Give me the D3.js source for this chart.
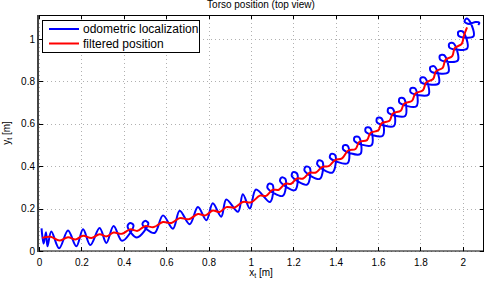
<!DOCTYPE html>
<html>
<head>
<meta charset="utf-8">
<script src="https://cdn.jsdelivr.net/npm/d3@7"></script>
<style>
body { margin: 0; background: #fff; }
svg text { font-family: "Liberation Sans", Arial, sans-serif; }
.grid line { stroke: #b0b0b0; stroke-dasharray: 1,3; shape-rendering: crispEdges; }
.tick line { shape-rendering: crispEdges; }
</style>
</head>
<body>
<div id="chart"></div>
<script>
// Chart data
var titleText = "Torso position (top view)";
var xTicks = [0, 0.2, 0.4, 0.6, 0.8, 1, 1.2, 1.4, 1.6, 1.8, 2];
var xTickLabels = ["0", "0.2", "0.4", "0.6", "0.8", "1", "1.2", "1.4", "1.6", "1.8", "2"];
var yTicks = [0, 0.2, 0.4, 0.6, 0.8, 1];
var yTickLabels = ["0", "0.2", "0.4", "0.6", "0.8", "1"];
var xDomain = [0, 2.1];
var yDomain = [0, 1.113];
var seriesNames = ["odometric localization", "filtered position"];
var seriesColors = ["#0000ff", "#ff0000"];

// odometric localization [x, y]
var odometric = [
  [0.012, 0.107], [0.022, 0.035], [0.033, 0.088], [0.04, 0.022], [0.058, 0.092],
  [0.095, 0.013], [0.137, 0.097], [0.176, 0.022], [0.208, 0.102], [0.242, 0.028],
  [0.286, 0.108], [0.318, 0.038], [0.352, 0.118], [0.392, 0.048],
  [0.446, 0.121], [0.43, 0.132], [0.418, 0.117], [0.462, 0.064],
  [0.516, 0.131], [0.50, 0.142], [0.488, 0.127], [0.545, 0.085],
  [0.585, 0.168], [0.632, 0.105], [0.664, 0.19], [0.711, 0.126],
  [0.75, 0.207], [0.79, 0.145], [0.82, 0.225], [0.86, 0.162],
  [0.884, 0.243], [0.939, 0.185], [0.962, 0.268], [0.995, 0.200],
  [1.024, 0.29], [1.090, 0.231],
  [1.103, 0.311], [1.084, 0.317], [1.078, 0.298], [1.150, 0.260],
  [1.163, 0.340], [1.144, 0.3465], [1.138, 0.328], [1.208, 0.287],
  [1.218, 0.365], [1.199, 0.3715], [1.193, 0.353], [1.265, 0.313],
  [1.278, 0.392], [1.259, 0.398], [1.253, 0.379], [1.325, 0.340],
  [1.338, 0.421], [1.319, 0.427], [1.313, 0.408], [1.385, 0.370],
  [1.398, 0.452], [1.379, 0.4584], [1.373, 0.440], [1.456, 0.414],
  [1.457, 0.496], [1.437, 0.4975], [1.436, 0.478], [1.516, 0.457],
  [1.510, 0.537], [1.490, 0.538], [1.489, 0.518], [1.569, 0.499],
  [1.563, 0.580], [1.543, 0.5815], [1.542, 0.562], [1.622, 0.544],
  [1.616, 0.626], [1.596, 0.627], [1.595, 0.607], [1.675, 0.590],
  [1.669, 0.672], [1.649, 0.673], [1.648, 0.653], [1.728, 0.637],
  [1.722, 0.719], [1.702, 0.720], [1.701, 0.700], [1.781, 0.683],
  [1.775, 0.767], [1.755, 0.768], [1.754, 0.748], [1.838, 0.737],
  [1.821, 0.817], [1.801, 0.8156], [1.803, 0.796], [1.886, 0.790],
  [1.867, 0.870], [1.847, 0.868], [1.849, 0.848], [1.931, 0.842],
  [1.912, 0.924], [1.892, 0.922], [1.894, 0.902], [1.976, 0.898],
  [1.956, 0.980], [1.936, 0.978], [1.938, 0.958], [2.021, 0.956],
  [1.999, 1.036], [1.979, 1.034], [1.981, 1.014], [2.05, 1.012],
  [2.036, 1.078], [2.018, 1.097], [2.008, 1.082], [2.03, 1.071],
  [2.06, 1.08], [2.078, 1.077], [2.073, 1.066]
];

// filtered position [x, y]
var filtered = [
  [0.015, 0.062], [0.055, 0.067], [0.096, 0.049], [0.137, 0.065], [0.172, 0.054],
  [0.208, 0.072], [0.247, 0.061], [0.286, 0.079], [0.319, 0.069], [0.352, 0.087],
  [0.391, 0.081], [0.43, 0.102], [0.465, 0.095], [0.50, 0.117], [0.542, 0.113],
  [0.585, 0.137], [0.625, 0.132], [0.664, 0.155], [0.707, 0.150], [0.75, 0.174],
  [0.785, 0.168], [0.82, 0.191], [0.852, 0.184], [0.884, 0.207], [0.923, 0.205],
  [0.962, 0.231], [1.002, 0.230], [1.042, 0.261], [1.072, 0.260], [1.102, 0.288],
  [1.132, 0.289], [1.162, 0.317], [1.19, 0.317], [1.217, 0.342], [1.247, 0.342],
  [1.277, 0.369], [1.307, 0.370], [1.337, 0.397], [1.367, 0.400], [1.397, 0.429],
  [1.43, 0.437], [1.459, 0.474], [1.494, 0.481], [1.511, 0.514], [1.548, 0.523],
  [1.564, 0.557], [1.601, 0.569], [1.617, 0.603], [1.654, 0.614], [1.67, 0.649],
  [1.707, 0.661], [1.723, 0.695], [1.76, 0.708], [1.776, 0.743], [1.812, 0.758],
  [1.827, 0.795], [1.86, 0.811], [1.873, 0.847], [1.905, 0.864], [1.918, 0.901],
  [1.95, 0.919], [1.962, 0.957], [1.995, 0.977], [2.005, 1.015], [2.02, 1.055]
];

var width = 485, height = 282;
var plot = {left: 39, right: 484, top: 15, bottom: 251};

var svg = d3.select("#chart").append("svg")
    .attr("width", width)
    .attr("height", height);

// Scales
var xScale = d3.scaleLinear().domain(xDomain).range([plot.left, plot.right]);
var yScale = d3.scaleLinear().domain(yDomain).range([plot.bottom, plot.top]);

// Grid
var grid = svg.append("g").attr("class", "grid");
grid.selectAll(".gx").data(xTicks).enter().append("line")
    .attr("x1", function(d) { return Math.round(xScale(d)) + 0.5; })
    .attr("x2", function(d) { return Math.round(xScale(d)) + 0.5; })
    .attr("y1", plot.top)
    .attr("y2", plot.bottom);
grid.selectAll(".gy").data(yTicks).enter().append("line")
    .attr("y1", function(d) { return Math.round(yScale(d)) + 0.5; })
    .attr("y2", function(d) { return Math.round(yScale(d)) + 0.5; })
    .attr("x1", plot.left)
    .attr("x2", plot.right);

// Axes, ticks pointing inward like the original
function fmt(labels, ticks) {
    return function(d) { return labels[ticks.indexOf(d)]; };
}
var gxB = svg.append("g").attr("transform", "translate(0," + plot.bottom + ")")
    .call(d3.axisBottom(xScale).tickValues(xTicks).tickFormat(fmt(xTickLabels, xTicks))
        .tickSizeInner(-4).tickSizeOuter(0).tickPadding(8));
var gxT = svg.append("g").attr("transform", "translate(0," + plot.top + ")")
    .call(d3.axisTop(xScale).tickValues(xTicks).tickFormat("")
        .tickSizeInner(-4).tickSizeOuter(0));
var gyL = svg.append("g").attr("transform", "translate(" + plot.left + ",0)")
    .call(d3.axisLeft(yScale).tickValues(yTicks).tickFormat(fmt(yTickLabels, yTicks))
        .tickSizeInner(-4).tickSizeOuter(0).tickPadding(4));
var gyR = svg.append("g").attr("transform", "translate(" + plot.right + ",0)")
    .call(d3.axisRight(yScale).tickValues(yTicks).tickFormat("")
        .tickSizeInner(-4).tickSizeOuter(0));
[gxB, gxT, gyL, gyR].forEach(function(g) {
    g.select(".domain").remove();
    g.attr("font-family", "Liberation Sans, Arial, sans-serif").attr("font-size", 10);
});

// Box (left edge drawn heavier, as in the original)
svg.append("rect")
    .attr("x", plot.left - 0.5)
    .attr("y", plot.top + 0.5)
    .attr("width", plot.right - plot.left)
    .attr("height", plot.bottom - plot.top - 0.5)
    .attr("fill", "none")
    .attr("stroke", "#000")
    .attr("stroke-width", 1);
svg.append("line")
    .attr("x1", plot.left - 1).attr("x2", plot.left - 1)
    .attr("y1", plot.top).attr("y2", plot.bottom + 1)
    .attr("stroke", "#444")
    .attr("stroke-width", 2);

// Lines
var line = d3.line()
    .x(function(d) { return xScale(d[0]); })
    .y(function(d) { return yScale(d[1]); })
    .curve(d3.curveCatmullRom.alpha(0.5));

svg.append("path")
    .datum(odometric)
    .attr("d", line)
    .attr("fill", "none")
    .attr("stroke", seriesColors[0])
    .attr("stroke-width", 2)
    .attr("stroke-linejoin", "round");

svg.append("path")
    .datum(filtered)
    .attr("d", line)
    .attr("fill", "none")
    .attr("stroke", seriesColors[1])
    .attr("stroke-width", 2)
    .attr("stroke-linejoin", "round");

// Title and axis labels
svg.append("text")
    .attr("x", 261).attr("y", 8)
    .attr("text-anchor", "middle")
    .attr("font-size", 10)
    .text(titleText);

var xl = svg.append("text")
    .attr("x", 261).attr("y", 276)
    .attr("text-anchor", "middle")
    .attr("font-size", 10);
xl.append("tspan").text("x");
xl.append("tspan").attr("font-size", 7).attr("dy", 2).text("t");
xl.append("tspan").attr("dy", -2).text(" [m]");

var yl = svg.append("text")
    .attr("transform", "translate(10,133) rotate(-90)")
    .attr("text-anchor", "middle")
    .attr("font-size", 10);
yl.append("tspan").text("y");
yl.append("tspan").attr("font-size", 7).attr("dy", 2).text("t");
yl.append("tspan").attr("dy", -2).text(" [m]");

// Legend
var legend = svg.append("g");
legend.append("rect")
    .attr("x", 42.5).attr("y", 20.5)
    .attr("width", 157).attr("height", 32)
    .attr("fill", "#fff")
    .attr("stroke", "#000");
seriesNames.forEach(function(name, i) {
    var ly = 29 + i * 14.5;
    legend.append("line")
        .attr("x1", 49).attr("x2", 79)
        .attr("y1", ly).attr("y2", ly)
        .attr("stroke", seriesColors[i])
        .attr("stroke-width", 2);
    legend.append("text")
        .attr("x", 83).attr("y", ly)
        .attr("dy", "0.35em")
        .attr("font-size", 12)
        .text(name);
});
</script>
</body>
</html>
